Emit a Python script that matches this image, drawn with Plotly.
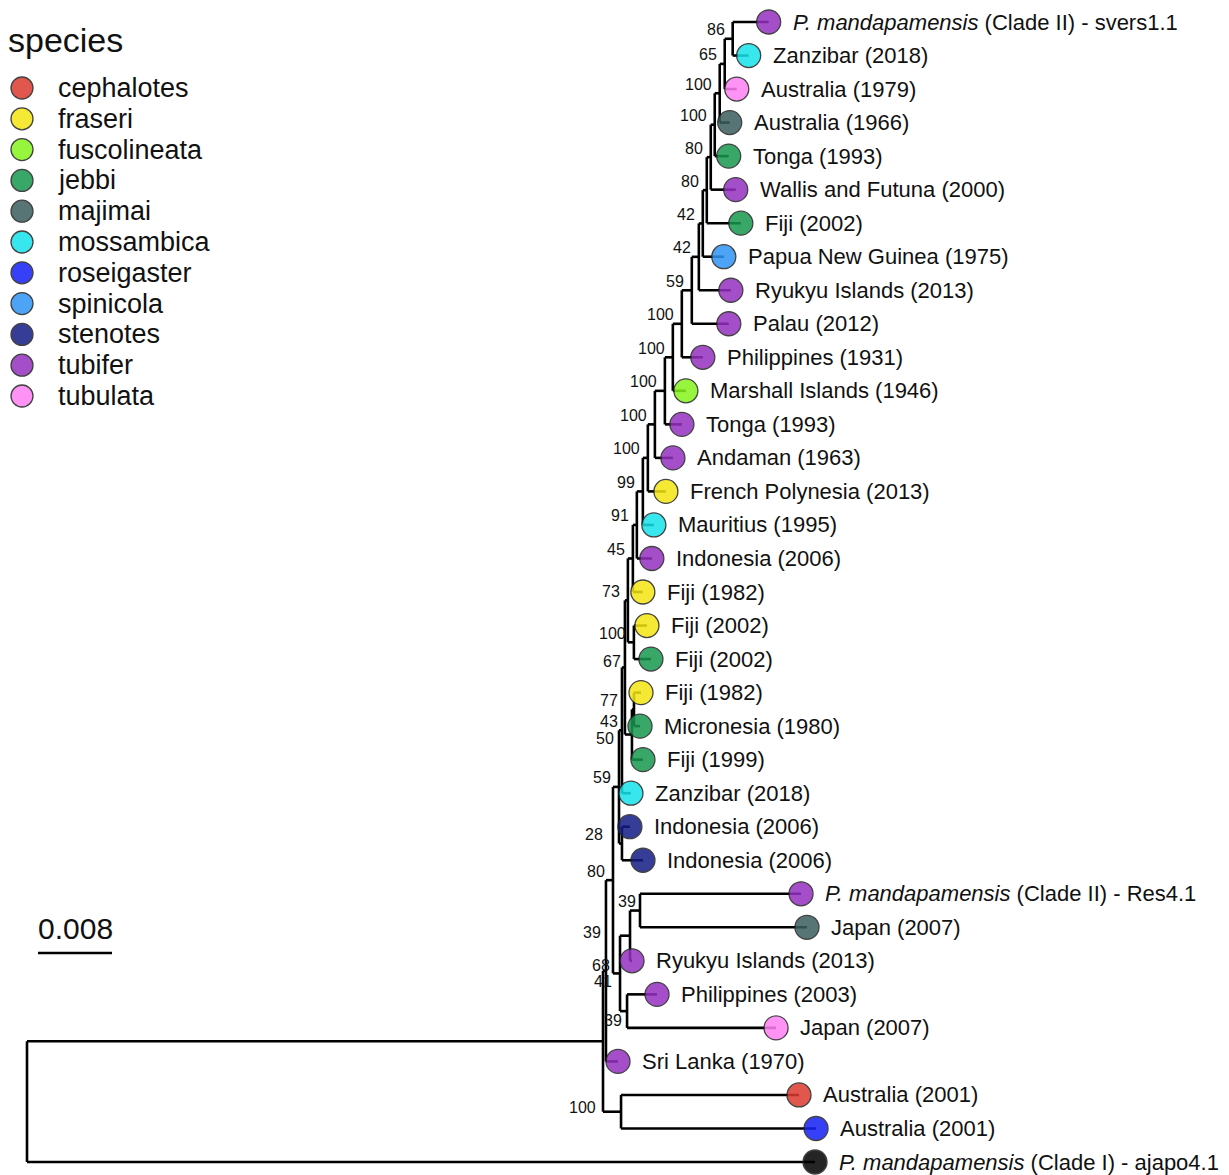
import plotly.graph_objects as go

# ---------------- data ----------------
# Tree topology with branch lengths (substitutions/site) and bootstrap support.
# Internal node name format: "<support>@<key>"
newick = (
    "(" * 25 + "t1:0.00389,t2:0.00173)86@n86:0.00086,t3:0.00130)65@n65:0.00054,"
    "t4:0.00108)100@n100a:0.00054,t5:0.00151)100@n100b:0.00043,t6:0.00270)80@n80a:0.00043,"
    "t7:0.00368)80@n80b:0.00043,t8:0.00227)42@n42a:0.00043,t9:0.00346)42@n42b:0.00076,"
    "t10:0.00400)59@n59a:0.00108,t11:0.00227)100@n100c:0.00097,t12:0.00141)100@n100d:0.00086,"
    "t13:0.00184)100@n100e:0.00108,t14:0.00195)100@n100f:0.00076,t15:0.00195)100@n100g:0.00054,"
    "t16:0.00119)99@n99:0.00065,t17:0.00162)91@n91:0.00043,t18:0.00108)45@n45:0.00054,"
    "(t19:0.00141,t20:0.00184)100@n100h:0.00065)73@n73:0.00032,"
    "((t21:0.00076,t22:0.00065)77@n77:0.00022,t23:0.00119)43@n43:0.00076)67@n67:0.00032,"
    "t24:0.00097)50@n50:0.00032,(t25:0.00086,t26:0.00227)28@n28:0.00032)59@n59b:0.00065,"
    "(((t27:0.01741,t28:0.01805)39@n39b:0.00108,t29:0.00022)39@nA:0.00108,"
    "(t30:0.00324,t31:0.01611)39@n39d:0.00076)41@nL:0.00076)80@n80:0.00076,"
    "t32:0.00130)68@n971:0.00032,(t33:0.01924,t34:0.02108)100@n100i:0.00195)@ingroup:0.06227,"
    "t35:0.08519)@root;"
)

tip_ids = ["t%d" % i for i in range(1, 36)]
tip_labels = [
    "<i>P. mandapamensis</i> (Clade II) - svers1.1", "Zanzibar (2018)", "Australia (1979)",
    "Australia (1966)", "Tonga (1993)", "Wallis and Futuna (2000)", "Fiji (2002)",
    "Papua New Guinea (1975)", "Ryukyu Islands (2013)", "Palau (2012)", "Philippines (1931)",
    "Marshall Islands (1946)", "Tonga (1993)", "Andaman (1963)", "French Polynesia (2013)",
    "Mauritius (1995)", "Indonesia (2006)", "Fiji (1982)", "Fiji (2002)", "Fiji (2002)",
    "Fiji (1982)", "Micronesia (1980)", "Fiji (1999)", "Zanzibar (2018)", "Indonesia (2006)",
    "Indonesia (2006)", "<i>P. mandapamensis</i> (Clade II) - Res4.1", "Japan (2007)",
    "Ryukyu Islands (2013)", "Philippines (2003)", "Japan (2007)", "Sri Lanka (1970)",
    "Australia (2001)", "Australia (2001)", "<i>P. mandapamensis</i> (Clade I) - ajapo4.1",
]
tip_species = [
    "tubifer", "mossambica", "tubulata", "majimai", "jebbi", "tubifer", "jebbi", "spinicola",
    "tubifer", "tubifer", "tubifer", "fuscolineata", "tubifer", "tubifer", "fraseri",
    "mossambica", "tubifer", "fraseri", "fraseri", "jebbi", "fraseri", "jebbi", "jebbi",
    "mossambica", "stenotes", "stenotes", "tubifer", "majimai", "tubifer", "tubifer",
    "tubulata", "tubifer", "cephalotes", "roseigaster", "outgroup",
]
species = ["cephalotes", "fraseri", "fuscolineata", "jebbi", "majimai", "mossambica",
           "roseigaster", "spinicola", "stenotes", "tubifer", "tubulata"]
species_colors = ["#DC3A30", "#F4E614", "#86F41C", "#16984E", "#3C5E5E", "#16E2EA",
                  "#1420F6", "#2E94F4", "#141C86", "#9630C0", "#FF80F4"]
outgroup_color = "#000000"
scale_bar_length = 0.008

# ---------------- style / layout constants ----------------
PAGE = 8                       # default body margin of the html page
W, H = 1229 - PAGE, 1175 - PAGE
root_px = 27.0 - PAGE          # root position inside the figure
px_per_unit = 74 / 0.008
row_px0, row_step = 22.0 - PAGE, 33.53
FONT = "Liberation Sans, Arial, Helvetica, sans-serif"
# small pixel nudges for crowded support labels (dx right, dy down)
label_nudge = {"n50": (0, 17), "n43": (-6, -4), "n77": (-8, 0), "n67": (4, 3),
               "nL": (0, 17), "n971": (12, 4), "nA": (-21, 6), "n39d": (3, 18),
               "n39b": (4, 0), "n100i": (-17, 5), "n28": (-11, 0)}


# ---------------- parse tree ----------------
def parse_newick(s):
    pos = 0

    def node():
        nonlocal pos
        n = {"children": [], "name": "", "bl": 0.0}
        if s[pos] == "(":
            pos += 1
            n["children"].append(node())
            while s[pos] == ",":
                pos += 1
                n["children"].append(node())
            pos += 1  # ')'
        start = pos
        while pos < len(s) and s[pos] not in ":,);":
            pos += 1
        n["name"] = s[start:pos]
        if pos < len(s) and s[pos] == ":":
            pos += 1
            start = pos
            while s[pos] not in ",);":
                pos += 1
            n["bl"] = float(s[start:pos])
        return n

    return node()


tree = parse_newick(newick)
tip_counter = [0]
all_nodes = []


def layout(n, depth):
    n["x"] = depth + n["bl"] if n is not tree else 0.0
    all_nodes.append(n)
    if not n["children"]:
        n["y"] = tip_counter[0]
        tip_counter[0] += 1
    else:
        for c in n["children"]:
            layout(c, n["x"])
        n["y"] = (n["children"][0]["y"] + n["children"][-1]["y"]) / 2.0


layout(tree, 0.0)

# branch segments
lx, ly = [], []
for n in all_nodes:
    for c in n["children"]:
        lx += [n["x"], c["x"], None]
        ly += [c["y"], c["y"], None]
    if n["children"]:
        lx += [n["x"], n["x"], None]
        ly += [n["children"][0]["y"], n["children"][-1]["y"], None]

fig = go.Figure()
fig.add_trace(go.Scatter(x=lx, y=ly, mode="lines", line=dict(color="#000000", width=2.6),
                         hoverinfo="skip", showlegend=False))

tips = {n["name"]: n for n in all_nodes if not n["children"]}
color_of = dict(zip(species, species_colors))
color_of["outgroup"] = outgroup_color

for sp in species + ["outgroup"]:
    xs = [tips[t]["x"] for t, s in zip(tip_ids, tip_species) if s == sp]
    ys = [tips[t]["y"] for t, s in zip(tip_ids, tip_species) if s == sp]
    fig.add_trace(go.Scatter(x=xs, y=ys, mode="markers", showlegend=False, hoverinfo="skip",
                             marker=dict(size=24, color=color_of[sp], opacity=0.85,
                                         line=dict(color="#222222", width=1.3))))

annotations = []
for t, lab in zip(tip_ids, tip_labels):
    annotations.append(dict(x=tips[t]["x"], y=tips[t]["y"], xref="x", yref="y", text=lab,
                            showarrow=False, xanchor="left", yanchor="middle", xshift=22,
                            font=dict(family=FONT, size=22, color="#111111")))

for n in all_nodes:
    if n["children"] and "@" in n["name"]:
        sup, key = n["name"].split("@")
        if not sup:
            continue
        dx, dy = label_nudge.get(key, (0, 0))
        annotations.append(dict(x=n["x"], y=n["y"], xref="x", yref="y", text=sup,
                                showarrow=False, xanchor="right", yanchor="middle",
                                xshift=-6 + dx, yshift=9 - dy,
                                font=dict(family=FONT, size=16, color="#111111")))

# scale bar
sb_x0 = 11 / px_per_unit
sb_row = (953 - 22) / row_step
fig.add_trace(go.Scatter(x=[sb_x0, sb_x0 + scale_bar_length], y=[sb_row, sb_row], mode="lines",
                         line=dict(color="#000000", width=2.6), showlegend=False,
                         hoverinfo="skip"))
annotations.append(dict(x=sb_x0 + scale_bar_length / 2, y=sb_row, xref="x", yref="y",
                        text=str(scale_bar_length), showarrow=False, yshift=25,
                        font=dict(family=FONT, size=30, color="#111111")))

# legend (drawn on pixel overlay axes, window coordinates)
leg_x, leg_y0, leg_step = 22, 88, 30.8
leg_y = [leg_y0 + i * leg_step for i in range(len(species))]
fig.add_trace(go.Scatter(x=[leg_x] * len(species), y=leg_y, xaxis="x2", yaxis="y2",
                         mode="markers", showlegend=False, hoverinfo="skip",
                         marker=dict(size=22, color=species_colors, opacity=0.85,
                                     line=dict(color="#222222", width=1.3))))
for sp, yy in zip(species, leg_y):
    annotations.append(dict(x=56, y=yy, xref="x2", yref="y2", text=sp, showarrow=False,
                            xanchor="left", yanchor="middle",
                            font=dict(family=FONT, size=27, color="#111111")))
annotations.append(dict(x=10, y=40, xref="x2", yref="y2", text="species", showarrow=False,
                        xanchor="left", yanchor="middle", xshift=-4,
                        font=dict(family=FONT, size=34, color="#111111")))

fig.update_layout(
    width=W, height=H, autosize=False,
    margin=dict(l=0, r=0, t=0, b=0, pad=0),
    paper_bgcolor="white", plot_bgcolor="white",
    xaxis=dict(range=[-root_px / px_per_unit, (W - root_px) / px_per_unit], visible=False,
               fixedrange=True),
    yaxis=dict(range=[(H - row_px0) / row_step, -row_px0 / row_step], visible=False,
               fixedrange=True),
    xaxis2=dict(range=[PAGE, PAGE + W], overlaying="x", visible=False, fixedrange=True),
    yaxis2=dict(range=[PAGE + H, PAGE], overlaying="y", visible=False, fixedrange=True),
    annotations=annotations,
    showlegend=False,
)

fig.write_html("out.html")
